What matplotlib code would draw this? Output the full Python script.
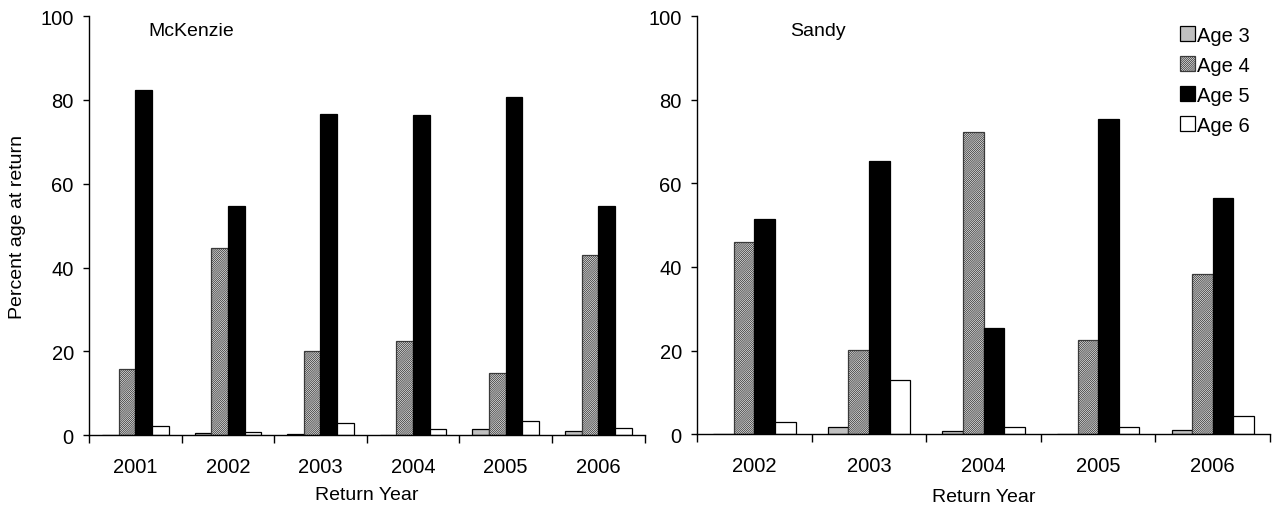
import numpy as np
import matplotlib
matplotlib.use("Agg")
import matplotlib.pyplot as plt

plt.rcParams['font.family'] = ['Liberation Sans', 'DejaVu Sans']
plt.rcParams['hatch.linewidth'] = 0.6

# data
ages = ['Age 3', 'Age 4', 'Age 5', 'Age 6']

mck_years = ['2001', '2002', '2003', '2004', '2005', '2006']
mck_age3 = [0.0, 0.4, 0.3, 0.0, 1.4, 1.1]
mck_age4 = [15.7, 44.6, 20.2, 22.4, 14.9, 42.9]
mck_age5 = [82.3, 54.6, 76.7, 76.3, 80.6, 54.6]
mck_age6 = [2.2, 0.7, 2.9, 1.4, 3.5, 1.8]

sandy_years = ['2002', '2003', '2004', '2005', '2006']
sandy_age3 = [0.0, 1.8, 0.7, 0.0, 1.0]
sandy_age4 = [46.0, 20.1, 72.2, 22.6, 38.4]
sandy_age5 = [51.4, 65.4, 25.5, 75.4, 56.4]
sandy_age6 = [2.9, 13.0, 1.8, 1.8, 4.3]

# bar styles per age class
styles = [
    dict(color='#c0c0c0', hatch=None),
    dict(color='white', hatch='////////////////'),
    dict(color='black', hatch=None),
    dict(color='white', hatch=None),
]

fig = plt.figure(figsize=(12.72, 5.06), dpi=100)
ax1 = fig.add_axes([0.070, 0.138, 0.4367, 0.828])
ax2 = fig.add_axes([0.548, 0.140, 0.4505, 0.826])


def draw_panel(ax, years, series, name, name_x):
    n = len(years)
    x = np.arange(n) + 0.5
    w = 0.18
    offsets = [-1.5 * w, -0.5 * w, 0.5 * w, 1.5 * w]
    for vals, off, st, lab in zip(series, offsets, styles, ages):
        bars = ax.bar(x + off, vals, width=w, color=st['color'],
                      edgecolor='black', linewidth=0.9, label=lab)
        if st['hatch']:
            for b in bars:
                b.set_hatch(st['hatch'])
                b.set_edgecolor('#3a3a3a')
                b.set_linewidth(0.9)
    ax.set_xlim(0, n)
    ax.set_ylim(0, 100)
    ax.set_yticks([0, 20, 40, 60, 80, 100])
    ax.set_xticks(np.arange(n + 1))
    ax.set_xticklabels([])
    ax.set_xticks(x, minor=True)
    ax.set_xticklabels(years, minor=True)
    ax.tick_params(axis='x', which='major', direction='out', length=6, width=1)
    ax.tick_params(axis='x', which='minor', length=0, pad=16, labelsize=14.5)
    ax.tick_params(axis='y', direction='out', length=4, width=1, pad=7, labelsize=14.5)
    for s in ['top', 'right']:
        ax.spines[s].set_visible(False)
    for s in ['left', 'bottom']:
        ax.spines[s].set_linewidth(1)
    ax.set_xlabel('Return Year', fontsize=14, labelpad=7)
    ax.text(name_x, 0.965, name, transform=ax.transAxes, fontsize=14,
            va='center', ha='left')


draw_panel(ax1, mck_years, [mck_age3, mck_age4, mck_age5, mck_age6], 'McKenzie', 0.107)
ax1.set_ylabel('Percent age at return', fontsize=14, labelpad=10)

draw_panel(ax2, sandy_years, [sandy_age3, sandy_age4, sandy_age5, sandy_age6], 'Sandy', 0.162)
ax2.xaxis.labelpad = 9

leg = ax2.legend(loc='upper right', bbox_to_anchor=(0.979, 0.997), frameon=False,
                 fontsize=14.5, handlelength=0.75, handleheight=0.75,
                 handletextpad=0.1, labelspacing=0.55, borderaxespad=0)

fig.savefig('out.png', dpi=100)
